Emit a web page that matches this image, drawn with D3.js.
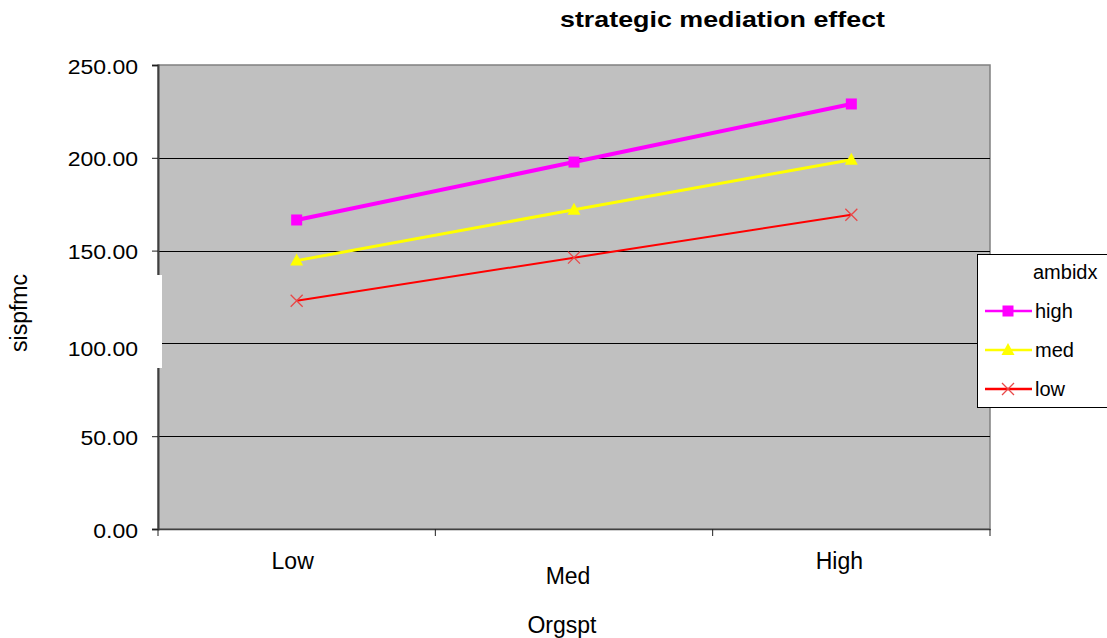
<!DOCTYPE html>
<html><head><meta charset="utf-8">
<script src="https://cdn.jsdelivr.net/npm/d3@7/dist/d3.min.js"></script>
<style>body{margin:0;background:#fff;font-family:"Liberation Sans",Arial,sans-serif;} text{font-family:"Liberation Sans",Arial,sans-serif;}</style>
</head><body>
<svg id="c" width="1107" height="638"></svg>
<script>
const categories = ["Low", "Med", "High"];
const seriesNames = ["high", "med", "low"];
const highValues = [166.5, 197.7, 229.0];
const medValues = [144.6, 172.0, 199.0];
const lowValues = [123.0, 146.2, 169.3];
const yTicks = [0, 50, 100, 150, 200, 250];

const svg = d3.select("#c");
const L = 158, R = 990, T = 65, B = 529;
const x = d3.scaleBand().domain(categories).range([L, R]);
const y = d3.scaleLinear().domain([0, 250]).range([B, T]);
const fmt = d3.format(".2f");

function stretch(sel, factor) {
  sel.each(function() {
    const w = this.getComputedTextLength();
    d3.select(this).attr("textLength", w * factor).attr("lengthAdjust", "spacingAndGlyphs");
  });
  return sel;
}

svg.append("rect").attr("x", L).attr("y", T).attr("width", R - L).attr("height", B - T)
  .attr("fill", "#c0c0c0").attr("stroke", "#808080").attr("stroke-width", 1.5);

// gridlines
svg.append("g").selectAll("line").data(yTicks.filter(d => d > 0 && d < 250)).join("line")
  .attr("x1", L).attr("x2", R).attr("y1", d => Math.round(y(d)) + 0.5).attr("y2", d => Math.round(y(d)) + 0.5)
  .attr("stroke", "#000").attr("stroke-width", 1.2);

// y axis
const ya = svg.append("g").attr("transform", `translate(${L},0)`)
  .call(d3.axisLeft(y).tickValues(yTicks).tickSize(6).tickFormat(""));
ya.select(".domain").attr("stroke", "#404040").attr("stroke-width", 2);
ya.selectAll(".tick line").attr("stroke", "#202020");

// x axis
const xa = svg.append("g").attr("transform", `translate(0,${B})`)
  .call(d3.axisBottom(x).tickSize(0).tickFormat(""));
xa.select(".domain").attr("stroke", "#404040").attr("stroke-width", 1.5);
const tickPos = [0, 1, 2, 3].map(i => L + i * x.step());
svg.append("g").selectAll("line").data(tickPos).join("line")
  .attr("x1", d => d).attr("x2", d => d).attr("y1", B).attr("y2", B + 7)
  .attr("stroke", "#202020").attr("stroke-width", 1);
const xOff = [-4, -6, -12];
svg.append("g").selectAll("text").data(categories).join("text")
  .attr("x", (d, i) => x(d) + x.bandwidth() / 2 + xOff[i])
  .attr("y", (d, i) => i === 1 ? 584 : 569)
  .attr("text-anchor", "middle").attr("font-size", 23).text(d => d);

// white patch from axis-title box
svg.append("rect").attr("x", 100).attr("y", 275).attr("width", 62).attr("height", 93).attr("fill", "#fff");

// y tick labels
stretch(svg.append("g").selectAll("text").data(yTicks).join("text")
  .attr("x", 138).attr("y", d => y(d) + (d === 100 ? 13 : 8.5)).attr("text-anchor", "end")
  .attr("font-size", 20).attr("fill", "#000").text(d => fmt(d)), 1.15);

// series
const series = [
  {name: seriesNames[0], values: highValues, color: "#ff00ff", width: 4, marker: "square"},
  {name: seriesNames[1], values: medValues, color: "#ffff00", width: 3, marker: "triangle"},
  {name: seriesNames[2], values: lowValues, color: "#ff0000", width: 2, marker: "x"}
];
const line = d3.line().x((d, i) => x(categories[i]) + x.bandwidth() / 2).y(d => y(d));

function drawMarker(g, type, cx, cy, color) {
  if (type === "square") {
    g.append("rect").attr("x", cx - 5.5).attr("y", cy - 5.5).attr("width", 11).attr("height", 11).attr("fill", color);
  } else if (type === "triangle") {
    g.append("path").attr("d", `M${cx},${cy - 7}L${cx + 6.5},${cy + 5}L${cx - 6.5},${cy + 5}Z`).attr("fill", color);
  } else {
    g.append("path").attr("d", `M${cx - 6},${cy - 6}L${cx + 6},${cy + 6}M${cx + 6},${cy - 6}L${cx - 6},${cy + 6}`)
      .attr("stroke", "#e84848").attr("stroke-width", 1.3).attr("fill", "none");
  }
}

series.forEach(s => {
  const g = svg.append("g");
  g.append("path").datum(s.values).attr("d", line).attr("fill", "none")
    .attr("stroke", s.color).attr("stroke-width", s.width);
  s.values.forEach((v, i) => drawMarker(g, s.marker, x(categories[i]) + x.bandwidth() / 2, y(v), s.color));
});

// titles
svg.append("text").attr("x", 560).attr("y", 27)
  .attr("font-size", 22).attr("font-weight", "bold")
  .attr("textLength", 325).attr("lengthAdjust", "spacingAndGlyphs").text("strategic mediation effect");
svg.append("text").attr("x", 562).attr("y", 633).attr("text-anchor", "middle").attr("font-size", 23).text("Orgspt");
svg.append("text").attr("transform", "translate(27,313) rotate(-90)").attr("text-anchor", "middle")
  .attr("font-size", 23).text("sispfmc");

// legend
const lg = svg.append("g");
lg.append("rect").attr("x", 977.5).attr("y", 254.5).attr("width", 140).attr("height", 153)
  .attr("fill", "#fff").attr("stroke", "#000").attr("stroke-width", 1);
lg.append("text").attr("x", 1033).attr("y", 279).attr("font-size", 20).text("ambidx");
series.forEach((s, i) => {
  const cy = 311 + i * 39;
  lg.append("line").attr("x1", 985).attr("x2", 1032).attr("y1", cy).attr("y2", cy)
    .attr("stroke", s.color).attr("stroke-width", 2.5);
  drawMarker(lg, s.marker, 1008, cy, s.color);
  lg.append("text").attr("x", 1035).attr("y", cy + 7).attr("font-size", 20).text(s.name);
});
</script>
</body></html>
